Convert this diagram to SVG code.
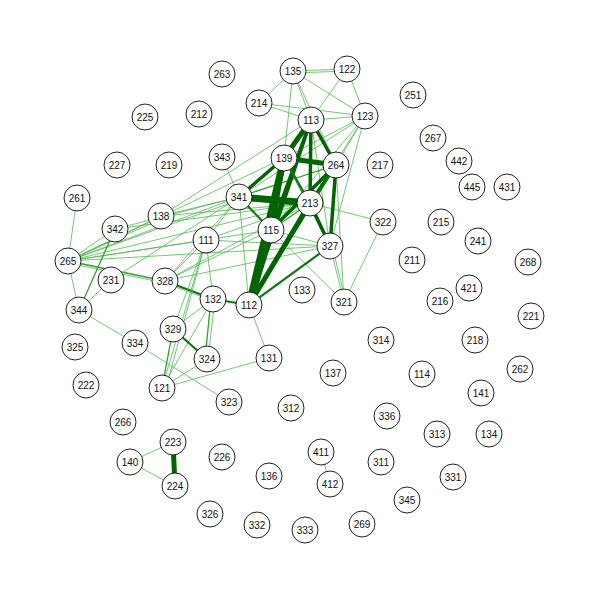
<svg xmlns="http://www.w3.org/2000/svg" width="600" height="600" viewBox="0 0 600 600">
<style>
.e1{stroke:#4cbb4c;stroke-width:0.8;fill:none}
.e2{stroke:#2ea02e;stroke-width:1.3;fill:none}
.e3{stroke:#0a7a0a;stroke-width:2.2;fill:none}
.e4{stroke:#006400;stroke-width:3.5;fill:none}
.e5{stroke:#006400;stroke-width:5;fill:none}
.e6{stroke:#006400;stroke-width:7;fill:none}
.n circle{fill:#fff;stroke:#222;stroke-width:1}
.n text{font-family:"Liberation Sans",Arial,sans-serif;font-size:10px;fill:#111;text-anchor:middle;dominant-baseline:central}
</style>
<rect width="600" height="600" fill="#fff"/>
<g id="edges">
<line class="e1" x1="293" y1="71" x2="347" y2="69"/>
<line class="e1" x1="293" y1="73" x2="347" y2="71"/>
<line class="e1" x1="293" y1="71" x2="259" y2="103"/>
<line class="e1" x1="293" y1="71" x2="311" y2="120"/>
<line class="e1" x1="293" y1="71" x2="284" y2="158"/>
<line class="e1" x1="293" y1="71" x2="336" y2="165"/>
<line class="e1" x1="293" y1="71" x2="365" y2="116"/>
<line class="e1" x1="347" y1="69" x2="311" y2="120"/>
<line class="e1" x1="347" y1="69" x2="365" y2="116"/>
<line class="e1" x1="259" y1="103" x2="311" y2="120"/>
<line class="e1" x1="259" y1="103" x2="365" y2="116"/>
<line class="e1" x1="311" y1="120" x2="365" y2="116"/>
<line class="e1" x1="311" y1="120" x2="161" y2="216"/>
<line class="e1" x1="365" y1="116" x2="336" y2="165"/>
<line class="e1" x1="365" y1="116" x2="310" y2="203"/>
<line class="e1" x1="365" y1="116" x2="284" y2="158"/>
<line class="e1" x1="365" y1="116" x2="330" y2="246"/>
<line class="e1" x1="365" y1="116" x2="271" y2="230"/>
<line class="e1" x1="365" y1="116" x2="239" y2="197"/>
<line class="e1" x1="311" y1="120" x2="330" y2="246"/>
<line class="e1" x1="222" y1="157" x2="239" y2="197"/>
<line class="e2" x1="239" y1="197" x2="336" y2="165"/>
<line class="e2" x1="284" y1="158" x2="330" y2="246"/>
<line class="e1" x1="310" y1="203" x2="383" y2="222"/>
<line class="e1" x1="271" y1="230" x2="330" y2="246"/>
<line class="e1" x1="271" y1="230" x2="344" y2="302"/>
<line class="e1" x1="330" y1="246" x2="344" y2="302"/>
<line class="e1" x1="332" y1="246" x2="346" y2="302"/>
<line class="e1" x1="336" y1="165" x2="344" y2="302"/>
<line class="e1" x1="383" y1="222" x2="344" y2="302"/>
<line class="e1" x1="68" y1="261" x2="115" y2="229"/>
<line class="e1" x1="68" y1="261" x2="161" y2="216"/>
<line class="e1" x1="68" y1="261" x2="161" y2="219"/>
<line class="e1" x1="68" y1="261" x2="239" y2="197"/>
<line class="e1" x1="68" y1="261" x2="239" y2="200"/>
<line class="e1" x1="68" y1="261" x2="284" y2="158"/>
<line class="e1" x1="68" y1="261" x2="206" y2="240"/>
<line class="e1" x1="68" y1="261" x2="310" y2="203"/>
<line class="e1" x1="68" y1="261" x2="271" y2="230"/>
<line class="e1" x1="68" y1="261" x2="330" y2="246"/>
<line class="e2" x1="68" y1="261" x2="165" y2="281"/>
<line class="e1" x1="68" y1="263" x2="165" y2="283"/>
<line class="e1" x1="68" y1="261" x2="77" y2="198"/>
<line class="e1" x1="68" y1="261" x2="79" y2="310"/>
<line class="e2" x1="115" y1="229" x2="79" y2="310"/>
<line class="e1" x1="115" y1="229" x2="239" y2="197"/>
<line class="e1" x1="115" y1="229" x2="310" y2="203"/>
<line class="e1" x1="161" y1="216" x2="239" y2="197"/>
<line class="e1" x1="161" y1="216" x2="310" y2="203"/>
<line class="e1" x1="111" y1="280" x2="239" y2="197"/>
<line class="e1" x1="111" y1="280" x2="79" y2="310"/>
<line class="e1" x1="165" y1="281" x2="206" y2="240"/>
<line class="e1" x1="165" y1="281" x2="239" y2="197"/>
<line class="e1" x1="165" y1="281" x2="310" y2="203"/>
<line class="e1" x1="165" y1="281" x2="271" y2="230"/>
<line class="e1" x1="165" y1="281" x2="330" y2="246"/>
<line class="e3" x1="165" y1="281" x2="213" y2="299"/>
<line class="e1" x1="165" y1="283" x2="213" y2="301"/>
<line class="e3" x1="213" y1="299" x2="249" y2="305"/>
<line class="e1" x1="206" y1="240" x2="239" y2="197"/>
<line class="e1" x1="206" y1="240" x2="330" y2="246"/>
<line class="e1" x1="206" y1="240" x2="310" y2="203"/>
<line class="e1" x1="206" y1="240" x2="213" y2="299"/>
<line class="e1" x1="206" y1="240" x2="162" y2="388"/>
<line class="e1" x1="206" y1="240" x2="166" y2="388"/>
<line class="e1" x1="206" y1="240" x2="173" y2="329"/>
<line class="e1" x1="213" y1="299" x2="173" y2="329"/>
<line class="e1" x1="213" y1="299" x2="162" y2="388"/>
<line class="e2" x1="211" y1="299" x2="205" y2="359"/>
<line class="e1" x1="215" y1="299" x2="208" y2="359"/>
<line class="e3" x1="173" y1="329" x2="207" y2="359"/>
<line class="e2" x1="173" y1="329" x2="162" y2="388"/>
<line class="e1" x1="207" y1="359" x2="162" y2="388"/>
<line class="e1" x1="162" y1="388" x2="269" y2="358"/>
<line class="e1" x1="249" y1="305" x2="269" y2="358"/>
<line class="e1" x1="239" y1="197" x2="249" y2="305"/>
<line class="e1" x1="79" y1="310" x2="135" y2="343"/>
<line class="e1" x1="135" y1="343" x2="229" y2="402"/>
<line class="e5" x1="311" y1="120" x2="284" y2="158"/>
<line class="e4" x1="311" y1="120" x2="336" y2="165"/>
<line class="e4" x1="311" y1="120" x2="310" y2="203"/>
<line class="e4" x1="311" y1="120" x2="271" y2="230"/>
<line class="e4" x1="311" y1="120" x2="249" y2="305"/>
<line class="e5" x1="284" y1="158" x2="336" y2="165"/>
<line class="e4" x1="284" y1="158" x2="239" y2="197"/>
<line class="e3" x1="284" y1="158" x2="310" y2="203"/>
<line class="e5" x1="284" y1="158" x2="271" y2="230"/>
<line class="e6" x1="284" y1="158" x2="249" y2="305"/>
<line class="e4" x1="336" y1="165" x2="310" y2="203"/>
<line class="e4" x1="336" y1="165" x2="330" y2="246"/>
<line class="e4" x1="336" y1="165" x2="271" y2="230"/>
<line class="e3" x1="336" y1="165" x2="249" y2="305"/>
<line class="e6" x1="239" y1="197" x2="310" y2="203"/>
<line class="e3" x1="239" y1="197" x2="271" y2="230"/>
<line class="e2" x1="310" y1="203" x2="271" y2="230"/>
<line class="e4" x1="310" y1="203" x2="330" y2="246"/>
<line class="e5" x1="310" y1="203" x2="249" y2="305"/>
<line class="e6" x1="271" y1="230" x2="249" y2="305"/>
<line class="e3" x1="330" y1="246" x2="249" y2="305"/>
<line class="e5" x1="173" y1="442" x2="175" y2="486"/>
<line class="e1" x1="173" y1="442" x2="130" y2="462"/>
<line class="e1" x1="130" y1="462" x2="175" y2="486"/>
<line class="e1" x1="321" y1="452" x2="330" y2="484"/>
</g>
<g class="n">
<g id="n263"><circle cx="222" cy="74" r="13"/><text x="222" y="74">263</text></g>
<g id="n135"><circle cx="293" cy="71" r="13"/><text x="293" y="71">135</text></g>
<g id="n122"><circle cx="347" cy="69" r="13"/><text x="347" y="69">122</text></g>
<g id="n251"><circle cx="413" cy="95" r="13"/><text x="413" y="95">251</text></g>
<g id="n225"><circle cx="145" cy="117" r="13"/><text x="145" y="117">225</text></g>
<g id="n212"><circle cx="199" cy="114" r="13"/><text x="199" y="114">212</text></g>
<g id="n214"><circle cx="259" cy="103" r="13"/><text x="259" y="103">214</text></g>
<g id="n113"><circle cx="311" cy="120" r="13"/><text x="311" y="120">113</text></g>
<g id="n123"><circle cx="365" cy="116" r="13"/><text x="365" y="116">123</text></g>
<g id="n267"><circle cx="433" cy="138" r="13"/><text x="433" y="138">267</text></g>
<g id="n227"><circle cx="117" cy="165" r="13"/><text x="117" y="165">227</text></g>
<g id="n219"><circle cx="169" cy="165" r="13"/><text x="169" y="165">219</text></g>
<g id="n343"><circle cx="222" cy="157" r="13"/><text x="222" y="157">343</text></g>
<g id="n139"><circle cx="284" cy="158" r="13"/><text x="284" y="158">139</text></g>
<g id="n264"><circle cx="336" cy="165" r="13"/><text x="336" y="165">264</text></g>
<g id="n217"><circle cx="380" cy="165" r="13"/><text x="380" y="165">217</text></g>
<g id="n442"><circle cx="459" cy="161" r="13"/><text x="459" y="161">442</text></g>
<g id="n445"><circle cx="472" cy="187" r="13"/><text x="472" y="187">445</text></g>
<g id="n431"><circle cx="507" cy="187" r="13"/><text x="507" y="187">431</text></g>
<g id="n261"><circle cx="77" cy="198" r="13"/><text x="77" y="198">261</text></g>
<g id="n341"><circle cx="239" cy="197" r="13"/><text x="239" y="197">341</text></g>
<g id="n213"><circle cx="310" cy="203" r="13"/><text x="310" y="203">213</text></g>
<g id="n138"><circle cx="161" cy="216" r="13"/><text x="161" y="216">138</text></g>
<g id="n342"><circle cx="115" cy="229" r="13"/><text x="115" y="229">342</text></g>
<g id="n115"><circle cx="271" cy="230" r="13"/><text x="271" y="230">115</text></g>
<g id="n322"><circle cx="383" cy="222" r="13"/><text x="383" y="222">322</text></g>
<g id="n215"><circle cx="441" cy="222" r="13"/><text x="441" y="222">215</text></g>
<g id="n241"><circle cx="478" cy="241" r="13"/><text x="478" y="241">241</text></g>
<g id="n265"><circle cx="68" cy="261" r="13"/><text x="68" y="261">265</text></g>
<g id="n111"><circle cx="206" cy="240" r="13"/><text x="206" y="240">111</text></g>
<g id="n327"><circle cx="330" cy="246" r="13"/><text x="330" y="246">327</text></g>
<g id="n211"><circle cx="412" cy="260" r="13"/><text x="412" y="260">211</text></g>
<g id="n268"><circle cx="528" cy="262" r="13"/><text x="528" y="262">268</text></g>
<g id="n231"><circle cx="111" cy="280" r="13"/><text x="111" y="280">231</text></g>
<g id="n328"><circle cx="165" cy="281" r="13"/><text x="165" y="281">328</text></g>
<g id="n421"><circle cx="469" cy="288" r="13"/><text x="469" y="288">421</text></g>
<g id="n344"><circle cx="79" cy="310" r="13"/><text x="79" y="310">344</text></g>
<g id="n132"><circle cx="213" cy="299" r="13"/><text x="213" y="299">132</text></g>
<g id="n112"><circle cx="249" cy="305" r="13"/><text x="249" y="305">112</text></g>
<g id="n133"><circle cx="302" cy="290" r="13"/><text x="302" y="290">133</text></g>
<g id="n321"><circle cx="344" cy="302" r="13"/><text x="344" y="302">321</text></g>
<g id="n216"><circle cx="440" cy="301" r="13"/><text x="440" y="301">216</text></g>
<g id="n221"><circle cx="531" cy="316" r="13"/><text x="531" y="316">221</text></g>
<g id="n325"><circle cx="75" cy="347" r="13"/><text x="75" y="347">325</text></g>
<g id="n334"><circle cx="135" cy="343" r="13"/><text x="135" y="343">334</text></g>
<g id="n329"><circle cx="173" cy="329" r="13"/><text x="173" y="329">329</text></g>
<g id="n324"><circle cx="207" cy="359" r="13"/><text x="207" y="359">324</text></g>
<g id="n131"><circle cx="269" cy="358" r="13"/><text x="269" y="358">131</text></g>
<g id="n314"><circle cx="381" cy="340" r="13"/><text x="381" y="340">314</text></g>
<g id="n218"><circle cx="475" cy="340" r="13"/><text x="475" y="340">218</text></g>
<g id="n137"><circle cx="333" cy="373" r="13"/><text x="333" y="373">137</text></g>
<g id="n114"><circle cx="422" cy="374" r="13"/><text x="422" y="374">114</text></g>
<g id="n262"><circle cx="520" cy="369" r="13"/><text x="520" y="369">262</text></g>
<g id="n222"><circle cx="86" cy="385" r="13"/><text x="86" y="385">222</text></g>
<g id="n121"><circle cx="162" cy="388" r="13"/><text x="162" y="388">121</text></g>
<g id="n323"><circle cx="229" cy="402" r="13"/><text x="229" y="402">323</text></g>
<g id="n312"><circle cx="291" cy="408" r="13"/><text x="291" y="408">312</text></g>
<g id="n141"><circle cx="481" cy="393" r="13"/><text x="481" y="393">141</text></g>
<g id="n336"><circle cx="387" cy="416" r="13"/><text x="387" y="416">336</text></g>
<g id="n266"><circle cx="123" cy="422" r="13"/><text x="123" y="422">266</text></g>
<g id="n313"><circle cx="437" cy="434" r="13"/><text x="437" y="434">313</text></g>
<g id="n134"><circle cx="489" cy="434" r="13"/><text x="489" y="434">134</text></g>
<g id="n223"><circle cx="173" cy="442" r="13"/><text x="173" y="442">223</text></g>
<g id="n140"><circle cx="130" cy="462" r="13"/><text x="130" y="462">140</text></g>
<g id="n224"><circle cx="175" cy="486" r="13"/><text x="175" y="486">224</text></g>
<g id="n226"><circle cx="222" cy="457" r="13"/><text x="222" y="457">226</text></g>
<g id="n411"><circle cx="321" cy="452" r="13"/><text x="321" y="452">411</text></g>
<g id="n311"><circle cx="381" cy="462" r="13"/><text x="381" y="462">311</text></g>
<g id="n136"><circle cx="269" cy="476" r="13"/><text x="269" y="476">136</text></g>
<g id="n412"><circle cx="330" cy="484" r="13"/><text x="330" y="484">412</text></g>
<g id="n331"><circle cx="453" cy="477" r="13"/><text x="453" y="477">331</text></g>
<g id="n345"><circle cx="407" cy="500" r="13"/><text x="407" y="500">345</text></g>
<g id="n326"><circle cx="210" cy="514" r="13"/><text x="210" y="514">326</text></g>
<g id="n332"><circle cx="257" cy="525" r="13"/><text x="257" y="525">332</text></g>
<g id="n333"><circle cx="305" cy="530" r="13"/><text x="305" y="530">333</text></g>
<g id="n269"><circle cx="362" cy="524" r="13"/><text x="362" y="524">269</text></g>
</g>
</svg>
